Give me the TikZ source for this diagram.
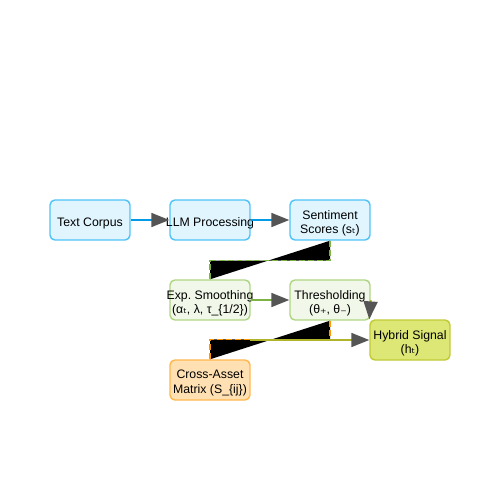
\documentclass[tikz,border=0pt]{standalone}
\usepackage{fontspec}
\setmainfont{Liberation Sans}
\newfontfamily\subfont{DejaVu Sans}
\usepackage{tikz}
\usetikzlibrary{arrows.meta, positioning}

\newcommand{\sub}[1]{{\subfont #1}}

\definecolor{blueFill}{HTML}{E1F5FE}
\definecolor{blueLine}{HTML}{4FC3F7}
\definecolor{blueArrow}{HTML}{039BE5}
\definecolor{greenFill}{HTML}{F1F8E9}
\definecolor{greenLine}{HTML}{AED581}
\definecolor{greenArrow}{HTML}{7CB342}
\definecolor{limeFill}{HTML}{DCE775}
\definecolor{limeLine}{HTML}{C0CA33}
\definecolor{limeArrow}{HTML}{AFB42B}
\definecolor{orangeFill}{HTML}{FFE0B2}
\definecolor{orangeLine}{HTML}{FFB74D}
\definecolor{orangeArrow}{HTML}{FF9800}
\definecolor{tipGray}{HTML}{555555}

\begin{document}
\begin{tikzpicture}[x=0.02cm, y=-0.02cm, font=\fontsize{7pt}{8.5pt}\selectfont,
  lbl/.style={align=center, inner sep=0pt, yshift=-1.9pt},
  box/.style={draw, line width=0.8pt, rounded corners=2.8pt, minimum width=1.6cm, minimum height=0.8cm, inner sep=0pt, label={[lbl]center:{#1}}},
  flow/.style={line width=1.1pt, -{Triangle[length=10.2pt, width=7.9pt, fill=tipGray, color=tipGray]}},
  link/.style={line width=0.9pt, dash pattern=on 3.4pt off 1.7pt, fill=black}]

\useasboundingbox (0,0) rectangle (500,500);

\node [box={Text Corpus}, fill=blueFill, draw=blueLine] (corpus) at (90,220) {};
\node [box={LLM Processing}, fill=blueFill, draw=blueLine] (llm) at (210,220) {};
\node [box={Sentiment\\Scores (s\sub{ₜ})}, fill=blueFill, draw=blueLine] (scores) at (330,220) {};

\node [box={Exp.\ Smoothing\\(α\sub{ₜ}, λ, τ\_\{1/2\})}, fill=greenFill, draw=greenLine] (smooth) at (210,300) {};
\node [box={Thresholding\\(θ\sub{₊}, θ\sub{₋})}, fill=greenFill, draw=greenLine] (thresh) at (330,300) {};

\node [box={Hybrid Signal\\(h\sub{ₜ})}, fill=limeFill, draw=limeLine] (hybrid) at (410,340) {};
\node [box={Cross-Asset\\Matrix (S\_\{ij\})}, fill=orangeFill, draw=orangeLine] (cross) at (210,380) {};

\draw [flow, blueArrow] (corpus) -- (llm.west);
\draw [flow, blueArrow] (llm) -- (scores.west);
\draw [flow, greenArrow] (smooth) -- (thresh.west);

\draw [link, draw=greenArrow] (scores.south) -- ++(0,20) -| (smooth.north);
\draw [link, draw=orangeArrow] (cross.north) -- ++(0,-20) -| (thresh.south);

\coordinate (crossOut) at (250,340);
\draw [flow, limeArrow] (crossOut) -- (hybrid.west);
\draw [flow, limeArrow] (thresh.east) -- (hybrid.north west);

\end{tikzpicture}
\end{document}
